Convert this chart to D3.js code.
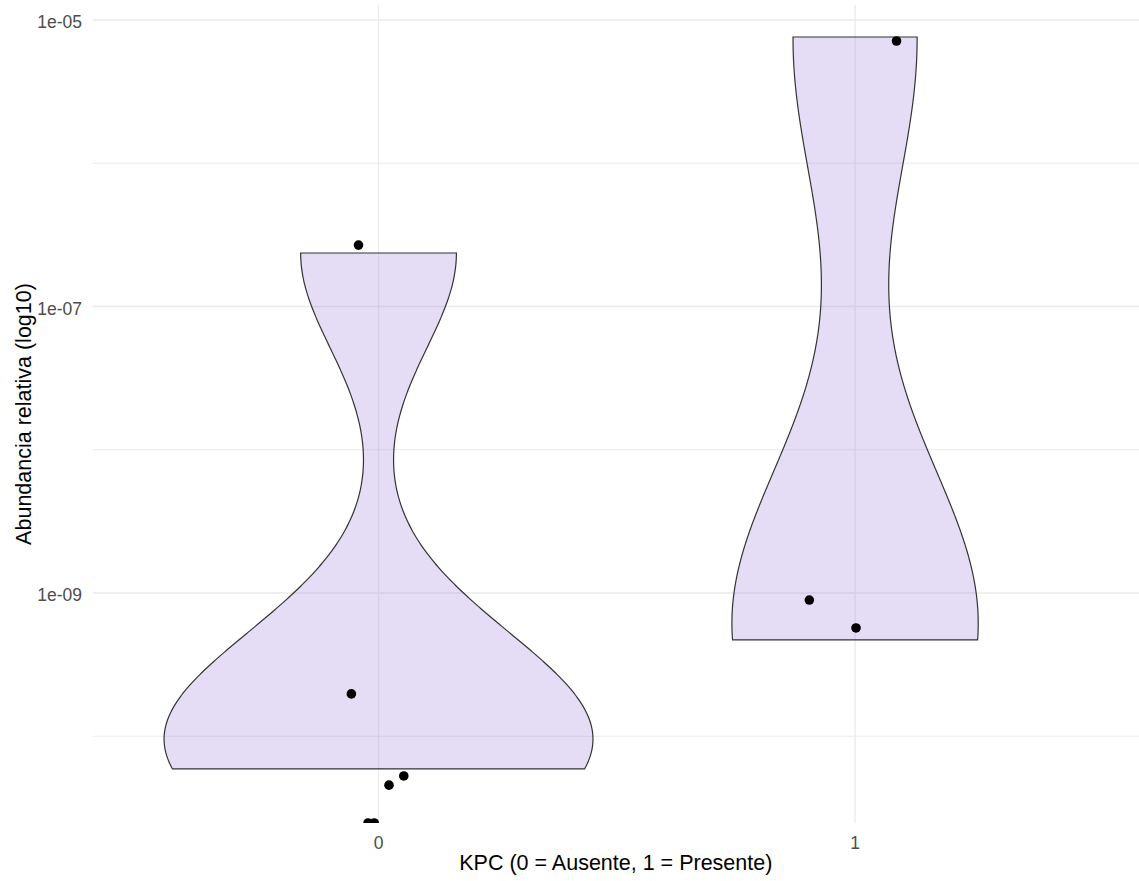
<!DOCTYPE html>
<html>
<head>
<meta charset="utf-8">
<script src="https://cdn.jsdelivr.net/npm/d3@7"></script>
<style>
  body { margin: 0; background: #fff; }
  text { font-family: "Liberation Sans", Arial, sans-serif; }
</style>
</head>
<body>
<div id="chart"></div>
<script>
// data
const groups = ["0", "1"];
const kpc0 = [2.363e-7, 2.51e-10, 6.76e-11, 5.91e-11, 0, 0];
const kpc1 = [7.61e-6, 7.94e-10, 4.70e-10];
// jitter of each point (x in category units, y in decades)
const jitX0 = [-0.042, -0.057, 0.053, 0.022, -0.022, -0.009];
const jitY0 = [0.055, -0.104, -0.107, -0.113, 0, 0];
const jitX1 = [0.087, -0.096, 0.002];
const jitY1 = [-0.028, 0.051, 0.084];
const majorBreaks = [1e-5, 1e-7, 1e-9];
const tickLabels = ["1e-05", "1e-07", "1e-09"];
const minorBreaks = [1e-6, 1e-8, 1e-10];

const w = 1139, h = 881;
const pLeft = 92.6, pRight = 1141, pTop = 5, pBottom = 823;

const svg = d3.select("#chart").append("svg")
  .attr("width", w).attr("height", h);

const x = d3.scaleLinear().domain([-0.6, 1.6]).range([pLeft, pRight]);
const y = d3.scaleLog().domain([Math.pow(10, -10.6056), Math.pow(10, -4.8953)]).range([pBottom, pTop]);

svg.append("defs").append("clipPath").attr("id", "panel")
  .append("rect").attr("x", pLeft).attr("y", pTop)
  .attr("width", w - pLeft).attr("height", pBottom - pTop);

const grid = svg.append("g");
grid.selectAll(".minor").data(minorBreaks).enter().append("line")
  .attr("x1", pLeft).attr("x2", w)
  .attr("y1", d => y(d)).attr("y2", d => y(d))
  .attr("stroke", "#ebebeb").attr("stroke-width", 1);
grid.selectAll(".major").data(majorBreaks).enter().append("line")
  .attr("x1", pLeft).attr("x2", w)
  .attr("y1", d => y(d)).attr("y2", d => y(d))
  .attr("stroke", "#ebebeb").attr("stroke-width", 1.3);
grid.selectAll(".vx").data(groups).enter().append("line")
  .attr("x1", (d, i) => x(i)).attr("x2", (d, i) => x(i))
  .attr("y1", pTop).attr("y2", pBottom)
  .attr("stroke", "#ebebeb").attr("stroke-width", 1.3);

// violin density, gaussian kernel, bw.nrd0, trimmed to data range
function quantile(s, p) {
  const k = (s.length - 1) * p, lo = Math.floor(k), hi = Math.ceil(k);
  return s[lo] + (s[hi] - s[lo]) * (k - lo);
}
function kde(vals) {
  const v = vals.filter(d => d > 0).map(d => Math.log10(d)).sort((a, b) => a - b);
  const n = v.length;
  const sd = d3.deviation(v);
  const iqr = (quantile(v, 0.75) - quantile(v, 0.25)) / 1.34;
  const bw = 0.9 * Math.min(sd, iqr) * Math.pow(n, -0.2);
  const lo = v[0], hi = v[n - 1];
  return d3.range(512).map(i => {
    const t = lo + (hi - lo) * i / 511;
    const dens = d3.sum(v, u => Math.exp(-0.5 * ((t - u) / bw) ** 2)) / (n * bw * Math.sqrt(2 * Math.PI));
    return { t: t, dens: dens };
  });
}
const dens = [kde(kpc0), kde(kpc1)];
const maxDens = d3.max(dens, g => d3.max(g, d => d.dens));

const plot = svg.append("g").attr("clip-path", "url(#panel)");

dens.forEach((g, i) => {
  const area = d3.area()
    .y(d => y(Math.pow(10, d.t)))
    .x0(d => x(i - 0.45 * d.dens / maxDens))
    .x1(d => x(i + 0.45 * d.dens / maxDens));
  plot.append("path").datum(g)
    .attr("d", area)
    .attr("fill", "#9370db").attr("fill-opacity", 0.24)
    .attr("stroke", "#333333").attr("stroke-width", 1.2);
});

const pts = [];
kpc0.forEach((v, j) => pts.push({ g: 0, v: v, jx: jitX0[j], jy: jitY0[j] }));
kpc1.forEach((v, j) => pts.push({ g: 1, v: v, jx: jitX1[j], jy: jitY1[j] }));

plot.selectAll("circle").data(pts).enter().append("circle")
  .attr("cx", d => x(d.g + d.jx))
  .attr("cy", d => d.v > 0 ? y(d.v * Math.pow(10, d.jy)) : pBottom)
  .attr("r", 4.8)
  .attr("fill", "#000");

// axis labels
svg.selectAll(".ytick").data(majorBreaks).enter().append("text")
  .attr("x", 82).attr("y", d => y(d) + 8.5)
  .attr("text-anchor", "end")
  .attr("font-size", 17.5).attr("fill", "#4d4d4d")
  .text((d, i) => tickLabels[i]);

svg.selectAll(".xtick").data(groups).enter().append("text")
  .attr("x", (d, i) => x(i)).attr("y", 849)
  .attr("text-anchor", "middle")
  .attr("font-size", 17.5).attr("fill", "#4d4d4d")
  .text(d => d);

svg.append("text")
  .attr("x", (pLeft + w) / 2).attr("y", 870)
  .attr("text-anchor", "middle")
  .attr("font-size", 21.5).attr("fill", "#000")
  .text("KPC (0 = Ausente, 1 = Presente)");

svg.append("text")
  .attr("transform", "translate(31," + ((pTop + pBottom) / 2) + ") rotate(-90)")
  .attr("text-anchor", "middle")
  .attr("font-size", 21.5).attr("fill", "#000")
  .text("Abundancia relativa (log10)");
</script>
</body>
</html>
